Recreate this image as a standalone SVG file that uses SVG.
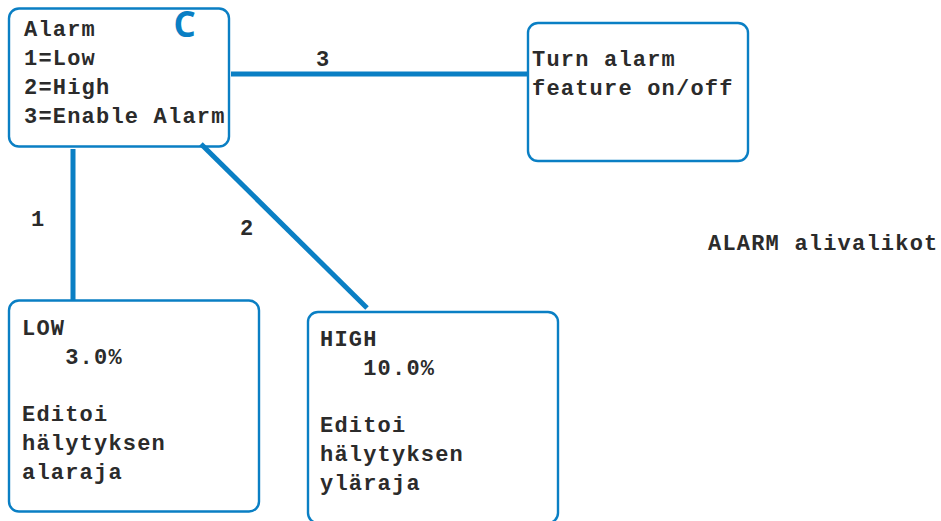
<svg xmlns="http://www.w3.org/2000/svg" width="941" height="521" viewBox="0 0 941 521">
<style>
.n{fill:#fff;stroke:#0a7fc4;stroke-width:2.4}
.c{stroke:#0a7fc4;stroke-width:5;fill:none}
text{font-family:"Liberation Mono",monospace;font-weight:bold;font-size:22px;letter-spacing:1.2px;fill:#2b2b2b;white-space:pre}
.mark{font-family:"Open Sans",sans-serif;font-size:35px;letter-spacing:0;fill:#0a7fc4}
</style>
<rect width="941" height="521" fill="#fff"/>
<g id="node-alarm"><rect class="n" x="9" y="8.500" width="220" height="138" rx="10"/>
<text x="24" y="36">Alarm</text><text x="24" y="65">1=Low</text><text x="24" y="94">2=High</text><text x="24" y="123">3=Enable Alarm</text>
<text class="mark" x="173.500" y="37">C</text></g>
<g id="node-toggle"><rect class="n" x="528" y="23" width="220" height="138" rx="10"/>
<text x="532" y="66">Turn alarm</text><text x="532" y="95">feature on/off</text></g>
<g id="node-low"><rect class="n" x="9" y="300.500" width="250" height="211" rx="10"/>
<text x="22" y="335">LOW</text><text x="22" y="364">   3.0%</text><text x="22" y="421">Editoi</text><text x="22" y="450">hälytyksen</text><text x="22" y="479">alaraja</text></g>
<g id="node-high"><rect class="n" x="308" y="312" width="250" height="211" rx="10"/>
<text x="320" y="346">HIGH</text><text x="320" y="375">   10.0%</text><text x="320" y="432">Editoi</text><text x="320" y="461">hälytyksen</text><text x="320" y="490">yläraja</text></g>
<g id="connectors">
<path class="c" d="M231 74H528"/>
<path class="c" d="M73 149V300"/>
<path class="c" d="M201 144L367 308"/>
</g>
<text x="316" y="66">3</text><text x="31" y="226">1</text><text x="240" y="235">2</text>
<text x="708" y="250">ALARM alivalikot</text>
</svg>
